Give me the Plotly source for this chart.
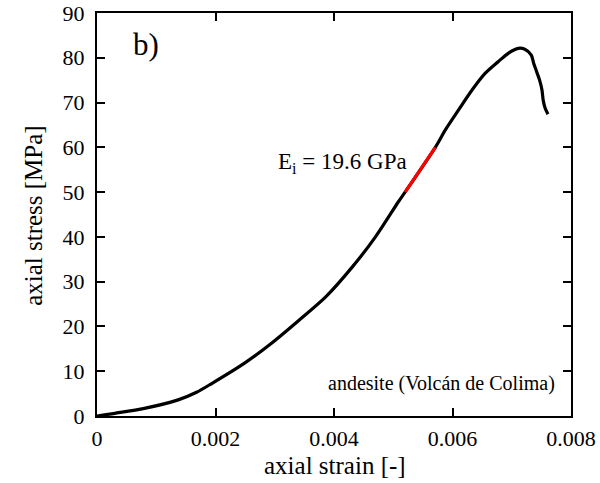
import plotly.graph_objects as go

# black stress-strain curve
strain = [0, 0.0003, 0.0008, 0.00137, 0.00168, 0.00193, 0.00249, 0.00294, 0.00341,
          0.00386, 0.00431, 0.00470, 0.00509, 0.00520, 0.00571, 0.00588, 0.00610,
          0.00633, 0.00655, 0.00677, 0.00694, 0.00711, 0.00722, 0.00733, 0.00737,
          0.00742, 0.00747, 0.00751, 0.00753, 0.00756, 0.00761]
stress = [0, 0.6, 1.7, 3.6, 5.3, 7.2, 11.8, 16.2, 21.4,
          26.6, 33.3, 40.0, 47.9, 50.0, 60.0, 63.9, 68.3,
          72.8, 76.5, 79.1, 81.0, 82.1, 81.9, 80.6, 78.8,
          76.9, 75.0, 72.8, 70.6, 68.9, 67.4]

# red tangent segment used for E_i
fit_strain = [0.00520, 0.00571]
fit_stress = [50.0, 60.0]

x_ticks = [0, 0.002, 0.004, 0.006, 0.008]
x_ticklabels = ["0", "0.002", "0.004", "0.006", "0.008"]
y_ticks = [0, 10, 20, 30, 40, 50, 60, 70, 80, 90]

FONT = "Liberation Serif"

fig = go.Figure()
fig.add_trace(go.Scatter(x=strain, y=stress, mode="lines",
                         line=dict(color="black", width=3.2, shape="spline", smoothing=0.8),
                         showlegend=False))
fig.add_trace(go.Scatter(x=fit_strain, y=fit_stress, mode="lines",
                         line=dict(color="#ff0000", width=3.2), showlegend=False))

axis_common = dict(showline=True, linecolor="black", linewidth=2, mirror="allticks",
                   ticks="inside", ticklen=8, tickwidth=1.5, tickcolor="black",
                   showgrid=False, zeroline=False, automargin=False,
                   tickfont=dict(family=FONT, size=22, color="black"))

fig.update_xaxes(range=[0, 0.008], tickvals=x_ticks, ticktext=x_ticklabels,
                 ticklabelstandoff=2, **axis_common)
fig.update_yaxes(range=[0, 90], tickvals=y_ticks, ticklabelstandoff=6, **axis_common)

# axis titles
fig.add_annotation(x=0.502, y=-0.124, xref="paper", yref="paper", text="axial strain [-]",
                   showarrow=False, xanchor="center", yanchor="middle",
                   font=dict(family=FONT, size=25, color="black"))
fig.add_annotation(x=-0.133, y=0.499, xref="paper", yref="paper", text="axial stress [MPa]",
                   showarrow=False, textangle=-90, xanchor="center", yanchor="middle",
                   font=dict(family=FONT, size=25, color="black"))

fig.add_annotation(x=0.00083, y=83.0, xref="x", yref="y", text="b)", showarrow=False,
                   font=dict(family=FONT, size=31, color="black"))
fig.add_annotation(x=0.00414, y=56.6, xref="x", yref="y", text="E<sub>i</sub> = 19.6 GPa",
                   showarrow=False, font=dict(family=FONT, size=23, color="black"))
fig.add_annotation(x=0.00777, y=7.3, xref="x", yref="y", text="andesite (Volcán de Colima)",
                   showarrow=False, xanchor="right",
                   font=dict(family=FONT, size=20, color="black"))

fig.update_layout(width=600, height=483, margin=dict(l=97, r=29, t=13, b=67),
                  plot_bgcolor="white", paper_bgcolor="white",
                  font=dict(family=FONT, color="black"))

fig.write_html("out.html")
